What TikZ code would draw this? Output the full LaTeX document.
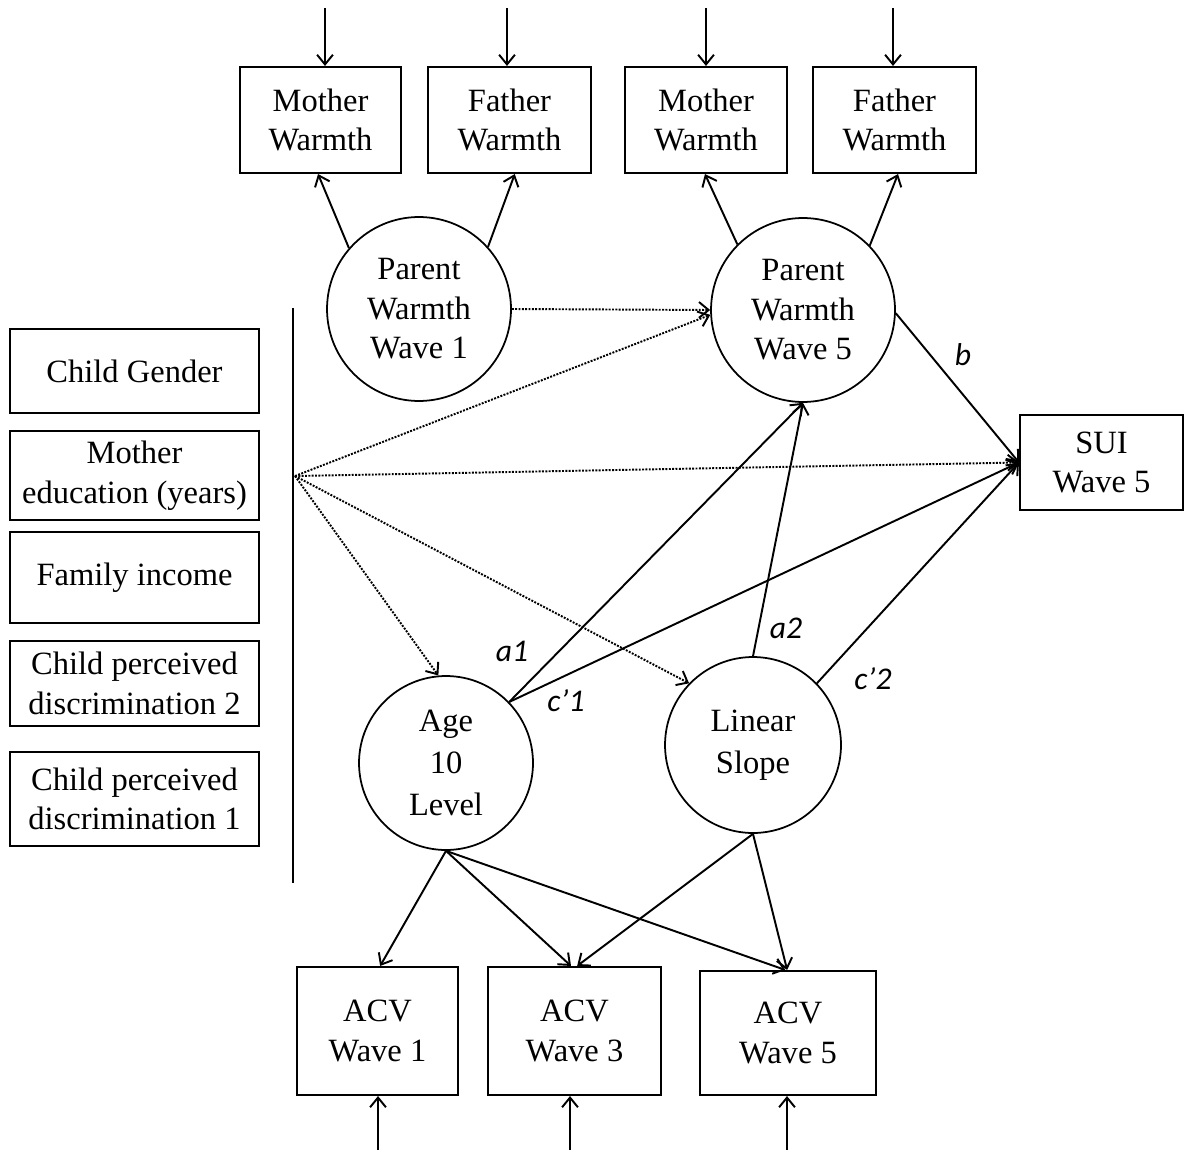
\documentclass[tikz,border=0pt]{standalone}
\usepackage{fontspec}
\setmainfont{Liberation Serif}
\newfontfamily\labelfont{Carlito}
\usetikzlibrary{arrows.meta}
\begin{document}
\begin{tikzpicture}[x=0.02cm,y=-0.02cm,
  every node/.style={font=\fontsize{18.5}{22.5}\selectfont, align=center, inner sep=0pt},
  box/.style={draw, line width=1.2pt, rectangle},
  latent/.style={draw, line width=1pt, circle},
  arr/.style={line width=1.1pt, -{Straight Barb[length=5.5pt,width=9pt]}},
  dotarr/.style={arr, dash pattern=on 1.1pt off 0.8pt},
  plabel/.style={font=\fontsize{18}{20}\selectfont\labelfont\itshape}
]
\useasboundingbox[fill=white] (0,0) rectangle (1185,1155);

% indicators of parent warmth
\node[box, minimum width=3.22cm, minimum height=2.12cm] (mw1) at (320.5,120) {Mother\\Warmth};
\node[box, minimum width=3.26cm, minimum height=2.12cm] (fw1) at (509.5,120) {Father\\Warmth};
\node[box, minimum width=3.24cm, minimum height=2.12cm] (mw5) at (706,120) {Mother\\Warmth};
\node[box, minimum width=3.26cm, minimum height=2.12cm] (fw5) at (894.5,120) {Father\\Warmth};

% latent parent warmth
\node[latent, minimum size=3.68cm] (pw1) at (419,309) {Parent\\Warmth\\Wave 1};
\node[latent, minimum size=3.68cm] (pw5) at (803,310) {Parent\\Warmth\\Wave 5};

% covariates
\node[box, minimum width=4.98cm, minimum height=1.68cm] (cg) at (134.5,371) {Child Gender};
\node[box, minimum width=4.98cm, minimum height=1.78cm] (me) at (134.5,475.5) {Mother\\education (years)};
\node[box, minimum width=4.98cm, minimum height=1.82cm] (fi) at (134.5,577.5) {Family income};
\node[box, minimum width=4.98cm, minimum height=1.70cm] (cpd2) at (134.5,683.5) {Child perceived\\discrimination 2};
\node[box, minimum width=4.98cm, minimum height=1.88cm] (cpd1) at (134.5,799) {Child perceived\\discrimination 1};

% outcome
\node[box, minimum width=3.26cm, minimum height=1.90cm] (sui) at (1101.5,462.5) {SUI\\Wave 5};

% growth factors
\node[latent, minimum size=3.48cm, font=\fontsize{18.5}{24}\selectfont] (age) at (446,763) {Age\\10\\Level};
\node[latent, minimum size=3.52cm, font=\fontsize{18.5}{24}\selectfont] (lin) at (753,745) {Linear\\Slope};

% ACV indicators
\node[box, minimum width=3.22cm, minimum height=2.56cm] (acv1) at (377.5,1031) {ACV\\Wave 1};
\node[box, minimum width=3.46cm, minimum height=2.56cm] (acv3) at (574.5,1031) {ACV\\Wave 3};
\node[box, minimum width=3.52cm, minimum height=2.48cm] (acv5) at (788,1033) {ACV\\Wave 5};

% covariate bracket
\coordinate (vtop) at (293,308);
\coordinate (vbot) at (293,883);
\coordinate (src) at (295,476);
\draw[line width=1.3pt] (vtop) -- (vbot);

% residual arrows
\foreach \n/\x in {mw1/325, fw1/507, mw5/706, fw5/893} {
  \coordinate (e\n) at (\x,8);
  \draw[arr] (e\n) -- (e\n |- \n.north);
}
\foreach \n/\x in {acv1/378, acv3/570, acv5/787} {
  \coordinate (e\n) at (\x,1150);
  \draw[arr] (e\n) -- (e\n |- \n.south);
}

% measurement paths of parent warmth
\draw[arr] (pw1.139) -- ([xshift=-1.4pt]mw1.south);
\draw[arr] (pw1.42) -- ([xshift=3pt]fw1.south);
\draw[arr] (pw5.135) -- ([xshift=-0.6pt]mw5.south);
\draw[arr] (pw5.44) -- ([xshift=2pt]fw5.south);

% control paths
\draw[dotarr] (pw1.east) -- (pw5.west);
\draw[dotarr] (src) -- (pw5.183);
\draw[dotarr] (src) -- (sui.west);
\draw[dotarr] (src) -- (age.95);
\draw[dotarr] (src) -- (lin.136);

% structural paths
\draw[arr] (age.44) -- (pw5.south);
\draw[arr] (age.44) -- (sui.west);
\draw[arr] (lin.north) -- (pw5.south);
\draw[arr] (lin.44) -- (sui.west);
\draw[arr] (pw5.-2) -- (sui.west);

% growth loadings
\draw[arr] (age.south) -- ([xshift=1.5pt]acv1.north);
\draw[arr] (age.south) -- ([xshift=-2pt]acv3.north);
\draw[arr] (age.south) -- ([xshift=-1.5pt]acv5.north);
\draw[arr] (lin.south) -- ([xshift=1.5pt]acv3.north);
\draw[arr] (lin.south) -- ([xshift=-0.5pt]acv5.north);

% path labels
\node[plabel] (la1) at (512,651) {a1};
\node[plabel] (lc1) at (566,701) {c’1};
\node[plabel] (la2) at (786,628) {a2};
\node[plabel] (lc2) at (873,679) {c’2};
\node[plabel] (lb) at (963,355) {b};
\end{tikzpicture}
\end{document}
